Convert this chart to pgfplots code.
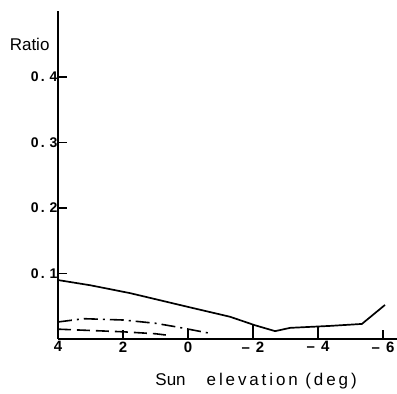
\documentclass[border=0pt]{standalone}
\usepackage{pgfplots}
\pgfplotsset{compat=1.18}
\usepackage{fontspec}
\setmainfont{Liberation Sans}
\newfontfamily\widefont[LetterSpace=17]{Liberation Sans}
\newcommand{\yl}[1]{\mbox{\fontsize{14}{16}\selectfont\bfseries 0\hspace{2pt}.\hspace{5pt}#1}}
\newcommand{\xn}[1]{\mbox{\fontsize{15}{17}\selectfont\bfseries #1}}
\newcommand{\xl}[1]{\mbox{\fontsize{15}{17}\selectfont\bfseries –\hspace{6pt}#1}}
\begin{document}
\begin{tikzpicture}
\useasboundingbox (-58pt,-55pt) rectangle (339pt,339pt);
\begin{axis}[
  at={(0pt,0pt)}, anchor=south west,
  scale only axis, width=339pt, height=328pt,
  x dir=reverse,
  xmin=-6.43, xmax=4, ymin=0, ymax=0.5008,
  axis lines=left, axis line style={line width=1.7pt, -},
  clip=false,
  tick align=inside, major tick length=9pt,
  tick style={line width=1.1pt, black},
  xtick={4,2,0,-2,-4,-6},
  xticklabels={\xn{4},\xn{2},\xn{0},\xl{2},\xl{4},\xl{6}},
  ytick={0.1,0.2,0.3,0.4},
  yticklabels={\yl{1},\yl{2},\yl{3},\yl{4}},
  xticklabel style={yshift=1pt},
  yticklabel style={xshift=3pt},
  xlabel={\fontsize{17}{19}\selectfont Sun\hspace{21pt}{\widefont elevation (deg)}},
  every axis x label/.style={at={(axis description cs:0.277,0)}, anchor=west, yshift=-42pt},
  ylabel={Ratio},
  every axis y label/.style={at={(axis description cs:0,0.897)}, anchor=east, xshift=-5pt, font=\fontsize{17}{19}\selectfont},
]
\addplot[black, line width=1.7pt] coordinates {
(4,0.090) (3,0.082) (1.78,0.070) (0,0.049) (-1.29,0.034) (-2.06,0.021)
(-2.68,0.012) (-3.14,0.017) (-4.37,0.020) (-5.35,0.023) (-6.06,0.052)};
\addplot[black, line width=1.6pt, dash pattern=on 14pt off 5pt on 2pt off 5pt] coordinates {
(4,0.026) (3.2,0.031) (2,0.029) (1,0.024) (0.3,0.018) (-0.75,0.008)};
\addplot[black, line width=1.6pt, dash pattern=on 13pt off 6pt] coordinates {
(4,0.015) (3,0.013) (2,0.011) (1,0.008) (0.5,0.005)};
\addplot[black, line width=1.2pt] coordinates {(-2,0) (-2,0.021)};
\addplot[black, line width=1.2pt] coordinates {(-4,0) (-4,0.020)};
\end{axis}
\end{tikzpicture}
\end{document}
